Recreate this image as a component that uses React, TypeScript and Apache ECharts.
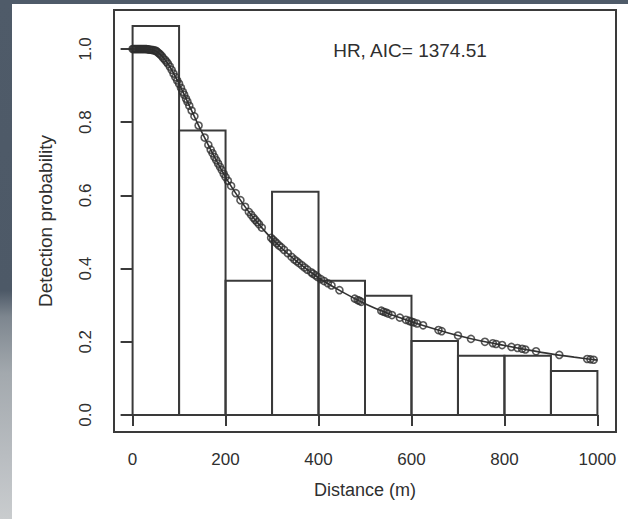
import React, { useEffect, useRef } from "react";
import * as echarts from "echarts";

// Histogram (scaled detection counts) — bin edges and bar heights
const binEdges = [0, 100, 200, 300, 400, 500, 600, 700, 800, 900, 1000];
const binHeights = [1.063, 0.777, 0.367, 0.61, 0.367, 0.326, 0.202, 0.162, 0.162, 0.12];

// Fitted hazard-rate detection function
const curveX = [0, 25, 50, 75, 100, 125, 150, 175, 200, 225, 250, 275, 300, 350, 400, 450, 500, 550, 600, 650, 700, 750, 800, 850, 900, 950, 1000];
const curveY = [1.0, 1.0, 0.995, 0.962, 0.905, 0.837, 0.77, 0.708, 0.65, 0.6, 0.555, 0.516, 0.481, 0.423, 0.375, 0.337, 0.304, 0.277, 0.255, 0.235, 0.217, 0.202, 0.19, 0.178, 0.167, 0.158, 0.15];

// Observed detections plotted on the fitted curve [distance, probability]
const observations: [number, number][] = [
  [0, 1], [2, 1], [4, 1], [6, 1], [8, 1], [10, 1], [12, 1], [14, 1], [16, 1], [18, 1],
  [20, 1], [22, 1], [24, 1], [26, 1], [28, 1], [30, 1], [32, 0.999], [35, 0.999], [37, 0.998], [40, 0.998],
  [42, 0.997], [45, 0.997], [48, 0.996], [50, 0.995], [52, 0.993], [55, 0.99], [58, 0.987], [60, 0.984], [63, 0.98], [66, 0.975],
  [70, 0.97], [73, 0.965], [76, 0.96], [80, 0.952], [84, 0.943], [88, 0.933], [92, 0.923], [96, 0.914], [100, 0.905], [104, 0.894],
  [108, 0.883], [111, 0.875], [115, 0.864], [118, 0.856], [122, 0.845], [127, 0.832], [133, 0.816], [142, 0.791], [155, 0.758], [163, 0.738],
  [168, 0.725], [172, 0.715], [176, 0.705], [180, 0.696], [184, 0.687], [188, 0.678], [192, 0.669], [196, 0.659], [200, 0.65], [205, 0.64],
  [212, 0.626], [222, 0.606], [232, 0.587], [242, 0.569], [250, 0.555], [255, 0.547], [260, 0.539], [264, 0.533], [268, 0.527], [272, 0.521],
  [278, 0.512], [298, 0.484], [302, 0.479], [306, 0.474], [310, 0.469], [315, 0.463], [320, 0.458], [326, 0.451], [334, 0.442], [342, 0.432],
  [348, 0.425], [353, 0.42], [358, 0.415], [364, 0.409], [370, 0.403], [376, 0.397], [384, 0.39], [388, 0.386], [393, 0.382], [398, 0.377],
  [405, 0.371], [412, 0.366], [420, 0.36], [428, 0.354], [445, 0.341], [478, 0.318], [484, 0.314], [488, 0.312], [492, 0.309], [535, 0.285],
  [540, 0.282], [545, 0.28], [550, 0.277], [558, 0.273], [575, 0.266], [588, 0.26], [595, 0.257], [600, 0.255], [605, 0.253], [612, 0.25],
  [625, 0.245], [658, 0.232], [665, 0.229], [700, 0.217], [728, 0.208], [758, 0.2], [775, 0.196], [782, 0.194], [795, 0.191], [815, 0.186],
  [828, 0.183], [838, 0.181], [845, 0.179], [868, 0.174], [918, 0.164], [978, 0.153], [985, 0.152], [992, 0.151],
];

const xTicks = [0, 200, 400, 600, 800, 1000];
const yTicks = [0, 0.2, 0.4, 0.6, 0.8, 1.0];
const annotation = "HR, AIC= 1374.51";
const xTitle = "Distance (m)";
const yTitle = "Detection probability";

const INK = "#2f2f2f";
const FONT = "'Liberation Sans', Arial, sans-serif";

export default function App() {
  const ref = useRef<HTMLDivElement>(null);

  useEffect(() => {
    if (!ref.current) return;
    const chart = echarts.init(ref.current, undefined, { renderer: "svg" });

    const histData = binHeights.map((h, i) => [binEdges[i], binEdges[i + 1], h]);
    const curveData = curveX.map((x, i) => [x, curveY[i]]);

    chart.setOption({
      animation: false,
      backgroundColor: "transparent",
      grid: {
        left: 114,
        right: 12,
        top: 10,
        bottom: 87,
        show: true,
        borderColor: "#3a3a3a",
        borderWidth: 2,
        backgroundColor: "transparent",
      },
      xAxis: {
        type: "value",
        min: -40,
        max: 1040,
        name: xTitle,
        nameLocation: "middle",
        nameGap: 49,
        nameTextStyle: { color: INK, fontSize: 18, fontFamily: FONT },
        axisLine: { show: false },
        splitLine: { show: false },
        axisTick: { show: true, length: 11, customValues: xTicks, lineStyle: { color: "#3a3a3a", width: 2 } },
        axisLabel: {
          customValues: xTicks,
          margin: 19,
          color: INK,
          fontSize: 17,
          fontFamily: FONT,
          formatter: (v: number) => String(v),
        },
      },
      yAxis: {
        type: "value",
        min: -0.0465,
        max: 1.1066,
        name: yTitle,
        nameLocation: "middle",
        nameGap: 59,
        nameTextStyle: { color: INK, fontSize: 19, fontFamily: FONT },
        axisLine: { show: false },
        splitLine: { show: false },
        axisTick: { show: true, length: 12, customValues: yTicks, lineStyle: { color: "#3a3a3a", width: 2 } },
        axisLabel: {
          customValues: yTicks,
          rotate: 90,
          margin: 20,
          color: INK,
          fontSize: 17,
          fontFamily: FONT,
          formatter: (v: number) => v.toFixed(1),
        },
      },
      graphic: [
        {
          type: "text",
          x: 410,
          y: 50,
          style: {
            text: annotation,
            fill: INK,
            font: `19px ${FONT}`,
            textAlign: "center",
            textVerticalAlign: "middle",
          },
          z: 10,
        },
      ],
      series: [
        {
          type: "custom",
          data: histData,
          encode: { x: [0, 1], y: 2 },
          renderItem: (params: any, api: any) => {
            const p0 = api.coord([api.value(0), api.value(2)]);
            const p1 = api.coord([api.value(1), 0]);
            return {
              type: "rect",
              shape: { x: p0[0], y: p0[1], width: p1[0] - p0[0], height: p1[1] - p0[1] },
              style: { fill: "none", stroke: "#3a3a3a", lineWidth: 2 },
            };
          },
          z: 1,
        },
        {
          type: "line",
          data: curveData,
          smooth: 0.3,
          showSymbol: false,
          lineStyle: { color: "#333", width: 1.6 },
          z: 2,
        },
        {
          type: "scatter",
          data: observations,
          symbol: "circle",
          symbolSize: 7,
          itemStyle: { color: "rgba(0,0,0,0)", borderColor: "#2e2e2e", borderWidth: 1.6 },
          z: 3,
        },
      ],
    });

    return () => chart.dispose();
  }, []);

  return (
    <div
      style={{
        position: "fixed",
        left: 0,
        top: 0,
        width: 628,
        height: 519,
        background:
          "linear-gradient(180deg, #4f5b69 0%, #4d5967 56%, #7d868f 61%, #a3a9ae 72%, #b9bdc1 88%, #c9ccce 100%)",
        overflow: "hidden",
      }}
    >
      <div style={{ position: "absolute", left: 12, top: 4, right: 0, bottom: 0, background: "#ffffff" }} />
      <div ref={ref} style={{ position: "absolute", left: 0, top: 0, width: 628, height: 519 }} />
    </div>
  );
}
